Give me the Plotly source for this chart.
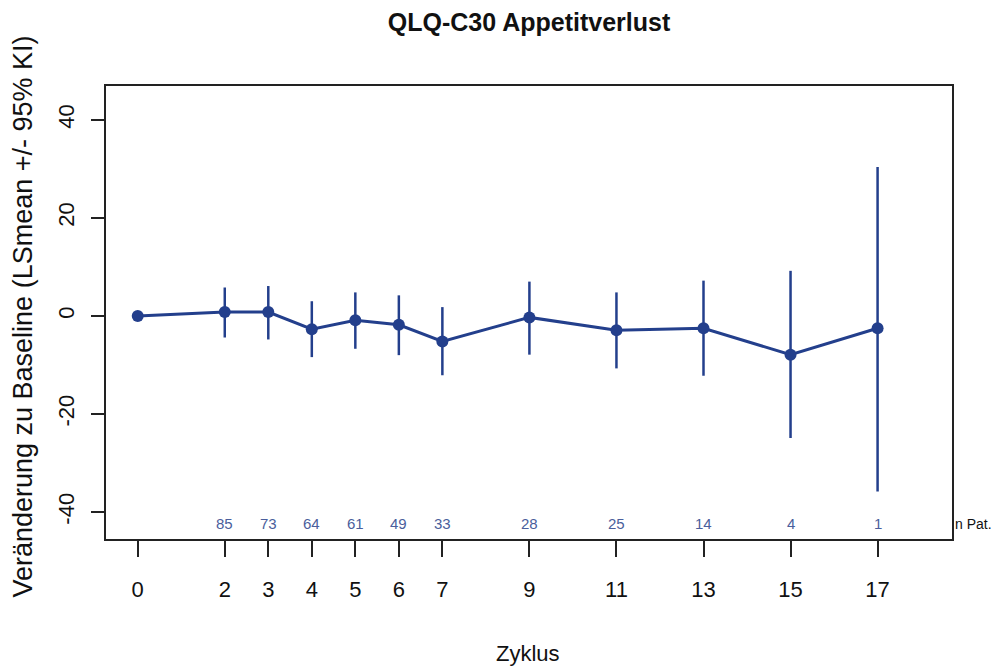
import plotly.graph_objects as go

# Cycle, LS-mean change from baseline and 95% CI limits
cycles = [0, 2, 3, 4, 5, 6, 7, 9, 11, 13, 15, 17]
lsmean = [0.0, 0.8, 0.8, -2.7, -0.9, -1.8, -5.2, -0.3, -2.9, -2.5, -7.9, -2.5]
ci_upper = [0.0, 5.8, 6.1, 3.0, 4.8, 4.2, 1.8, 7.0, 4.8, 7.2, 9.2, 30.4]
ci_lower = [0.0, -4.4, -4.8, -8.4, -6.7, -8.0, -12.1, -7.9, -10.7, -12.2, -24.9, -35.8]
n_patients = [None, 85, 73, 64, 61, 49, 33, 28, 25, 14, 4, 1]
y_ticks = [-40, -20, 0, 20, 40]

LINE = "#233F8C"
COUNT = "#4A5E9C"
SANS = "Liberation Sans, Arial, sans-serif"

err_plus = [u - m for u, m in zip(ci_upper, lsmean)]
err_minus = [m - l for m, l in zip(lsmean, ci_lower)]

fig = go.Figure()
fig.add_trace(go.Scatter(
    x=cycles, y=lsmean, mode="lines+markers",
    line=dict(color=LINE, width=3),
    marker=dict(color=LINE, size=12),
    error_y=dict(type="data", symmetric=False, array=err_plus, arrayminus=err_minus,
                 color=LINE, thickness=2.5, width=0),
    showlegend=False,
))

annotations = []
for c, n in zip(cycles, n_patients):
    if n is None:
        continue
    annotations.append(dict(x=c, xref="x", y=0.0337, yref="paper", text=str(n),
                            showarrow=False, font=dict(family=SANS, size=15, color=COUNT),
                            xanchor="center", yanchor="middle"))
annotations.append(dict(x=1.0015, xref="paper", y=0.0337, yref="paper", text="n Pat.",
                        showarrow=False, font=dict(family=SANS, size=14, color="#111111"),
                        xanchor="left", yanchor="middle"))
annotations.append(dict(x=0.499, xref="paper", y=-0.253, yref="paper", text="Zyklus",
                        showarrow=False, font=dict(family=SANS, size=22, color="#111111"),
                        xanchor="center", yanchor="middle"))
annotations.append(dict(x=-0.0981, xref="paper", y=0.491, yref="paper",
                        text="Veränderung zu Baseline (LSmean +/- 95% KI)", textangle=-90,
                        showarrow=False, font=dict(family=SANS, size=27, color="#111111"),
                        xanchor="center", yanchor="middle"))

fig.update_layout(
    width=993, height=672,
    margin=dict(l=106, r=41, t=86, b=133),
    paper_bgcolor="white", plot_bgcolor="white",
    title=dict(text="<b>QLQ-C30 Appetitverlust</b>", x=0.5, xref="paper", xanchor="center",
               y=0.967, yref="container", yanchor="middle",
               font=dict(family=SANS, size=25, color="#111111")),
    annotations=annotations,
    xaxis=dict(range=[-0.729, 18.71], tickvals=cycles, ticktext=[str(c) for c in cycles],
               showgrid=False, zeroline=False, showline=True, mirror=True,
               linecolor="#222222", linewidth=1.5,
               ticks="outside", ticklen=16, tickwidth=1.5, tickcolor="#222222",
               ticklabelstandoff=14,
               tickfont=dict(family=SANS, size=22, color="#111111")),
    yaxis=dict(range=[-45.5, 46.9], tickvals=y_ticks, ticktext=[str(v) for v in y_ticks],
               tickangle=-90,
               showgrid=False, zeroline=False, showline=True, mirror=True,
               linecolor="#222222", linewidth=1.5,
               ticks="outside", ticklen=13, tickwidth=1.5, tickcolor="#222222",
               ticklabelstandoff=8,
               tickfont=dict(family=SANS, size=22, color="#111111")),
)

fig.write_html("out.html")
